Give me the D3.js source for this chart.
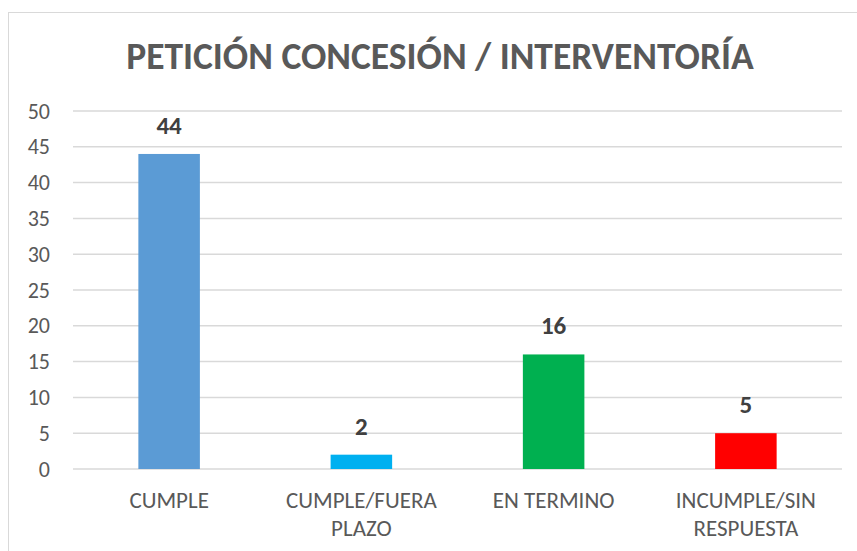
<!DOCTYPE html>
<html>
<head>
<meta charset="utf-8">
<script src="https://cdn.jsdelivr.net/npm/d3@7"></script>
<style>
  body { margin: 0; background: #fff; }
  text { font-family: Carlito, Lato, "Open Sans", sans-serif; }
</style>
</head>
<body>
<script>
// chart data
var categories = [["CUMPLE"], ["CUMPLE/FUERA", "PLAZO"], ["EN TERMINO"], ["INCUMPLE/SIN", "RESPUESTA"]];
var values = [44, 2, 16, 5];
var barColors = ["#5B9BD5", "#00B0F0", "#00B050", "#FF0000"];
var yTicks = [0, 5, 10, 15, 20, 25, 30, 35, 40, 45, 50];
var title = "PETICIÓN CONCESIÓN / INTERVENTORÍA";

var svgWidth = 857;
var svgHeight = 551;

var margin = { top: 111, right: 15, bottom: 82, left: 73 };
var chartWidth = svgWidth - margin.left - margin.right;
var chartHeight = svgHeight - margin.top - margin.bottom;

var svg = d3.select("body")
    .append("svg")
    .attr("width", svgWidth)
    .attr("height", svgHeight);

// outer chart border
svg.append("rect")
    .attr("x", 8.5)
    .attr("y", 12.5)
    .attr("width", 900)
    .attr("height", 600)
    .attr("fill", "none")
    .attr("stroke", "#d9d9d9")
    .attr("stroke-width", 1);

svg.append("text")
    .attr("x", 440)
    .attr("y", 69)
    .attr("text-anchor", "middle")
    .attr("font-size", "37.5px")
    .attr("font-weight", "bold")
    .attr("fill", "#595959")
    .text(title);

var chartGroup = svg.append("g")
    .attr("transform", `translate(${margin.left},${margin.top})`);

var xScale = d3.scaleBand()
    .domain(d3.range(categories.length))
    .range([0, chartWidth])
    .paddingInner(0.68)
    .paddingOuter(0.34);

var yScale = d3.scaleLinear()
    .domain([0, 50])
    .range([chartHeight, 0]);

// gridlines
chartGroup.selectAll(".grid")
    .data(yTicks)
    .enter()
    .append("line")
    .attr("x1", 0)
    .attr("x2", chartWidth)
    .attr("y1", d => yScale(d))
    .attr("y2", d => yScale(d))
    .attr("stroke", "#d9d9d9")
    .attr("stroke-width", 1.5);

// y axis labels
var leftAxis = d3.axisLeft(yScale).tickValues(yTicks).tickSize(0).tickPadding(23);
var yAxisGroup = chartGroup.append("g").call(leftAxis);
yAxisGroup.select(".domain").remove();
yAxisGroup.attr("font-family", null).attr("font-size", null);
yAxisGroup.selectAll("text")
    .attr("font-size", "22px")
    .attr("fill", "#595959");

// bars
chartGroup.selectAll("rect")
    .data(values)
    .enter()
    .append("rect")
    .attr("x", (d, i) => xScale(i))
    .attr("y", d => yScale(d))
    .attr("width", xScale.bandwidth())
    .attr("height", d => chartHeight - yScale(d))
    .attr("fill", (d, i) => barColors[i]);

// value labels
chartGroup.selectAll(".valueLabel")
    .data(values)
    .enter()
    .append("text")
    .attr("x", (d, i) => xScale(i) + xScale.bandwidth() / 2)
    .attr("y", d => yScale(d) - 20)
    .attr("text-anchor", "middle")
    .attr("font-size", "25px")
    .attr("font-weight", "bold")
    .attr("fill", "#404040")
    .text(d => d);

// category labels
var catGroup = chartGroup.selectAll(".catLabel")
    .data(categories)
    .enter()
    .append("text")
    .attr("text-anchor", "middle")
    .attr("font-size", "23px")
    .attr("fill", "#595959");

catGroup.each(function (lines, i) {
    var t = d3.select(this);
    lines.forEach((line, j) => {
        t.append("tspan")
            .attr("x", xScale(i) + xScale.bandwidth() / 2)
            .attr("y", chartHeight + 39 + j * 28)
            .text(line);
    });
});
</script>
</body>
</html>
